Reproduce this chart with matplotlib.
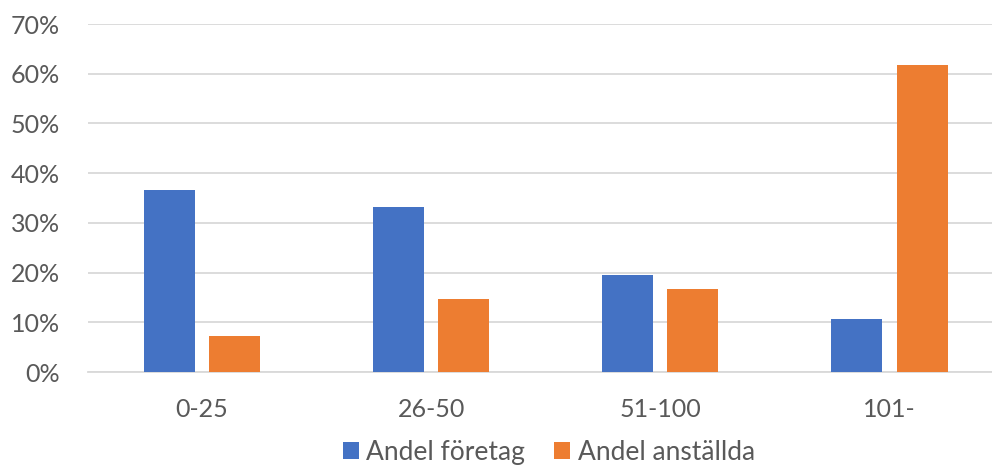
import numpy as np
import matplotlib.pyplot as plt
from matplotlib.ticker import PercentFormatter

# data
kategorier = ['0-25', '26-50', '51-100', '101-']
andel_foretag = [0.367, 0.332, 0.195, 0.106]
andel_anstallda = [0.072, 0.146, 0.166, 0.617]

plt.rcParams['font.family'] = ['Lato', 'DejaVu Sans']
grey = '#595959'

fig = plt.figure(figsize=(9.92, 4.65), dpi=100)
ax = fig.add_axes([88/992, 1-372/465, (992-88)/992, (372-24)/465])

x = np.arange(len(kategorier))
w = 0.2225
off = 0.142
ax.bar(x - off, andel_foretag, w, color='#4472c4', label='Andel företag', zorder=3)
ax.bar(x + off, andel_anstallda, w, color='#ed7d31', label='Andel anställda', zorder=3)

ax.set_xlim(-0.497, 3.447)
ax.set_ylim(0, 0.7)
ax.set_yticks(np.arange(0, 0.71, 0.1))
ax.yaxis.set_major_formatter(PercentFormatter(1.0, decimals=0))
ax.set_xticks(x)
ax.set_xticklabels(kategorier)

ax.grid(axis='y', color='#d9d9d9', linewidth=1.3, zorder=0)
for s in ['top', 'right', 'left']:
    ax.spines[s].set_visible(False)
ax.spines['bottom'].set_color('#d9d9d9')
ax.spines['bottom'].set_linewidth(1.3)
ax.tick_params(axis='both', length=0, colors=grey, labelsize=18)
ax.tick_params(axis='y', pad=20)
ax.tick_params(axis='x', pad=19)

leg = fig.legend(loc='center', bbox_to_anchor=(549/992, 1-452/465), ncol=2,
                 frameon=False, fontsize=19, handlelength=0.6, handleheight=0.6,
                 handletextpad=0.3, columnspacing=1.1, borderpad=0)
for t in leg.get_texts():
    t.set_color(grey)

fig.savefig('out.png', dpi=100)
